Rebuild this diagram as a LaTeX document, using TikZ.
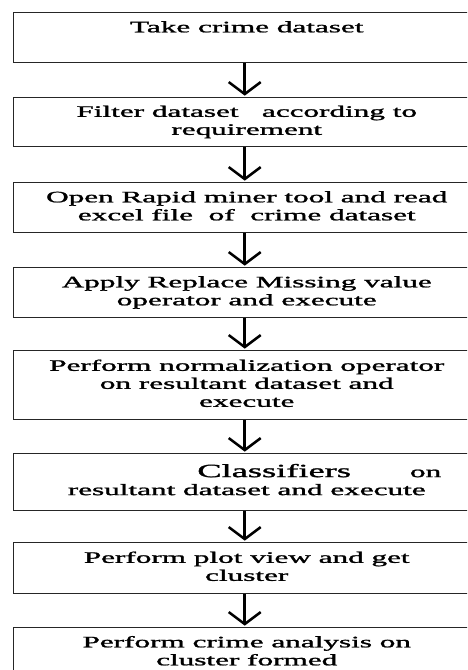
\documentclass[tikz,border=0pt]{standalone}
\usepackage{fontspec}
\setmainfont[FakeBold=1.2]{Liberation Serif}
\usetikzlibrary{arrows.meta}

% wide, horizontally stretched step text
\newcommand{\widetext}[1]{\scalebox{1.95}[1]{\begin{tabular}{@{}c@{}}#1\end{tabular}}}

\tikzset{
  stepbox/.style={draw=black!85, line width=1.1pt, rectangle, inner sep=0pt,
    minimum width=349.5pt, anchor=north west, fill=white,
    font=\fontsize{12}{13.5}\selectfont},
  flow/.style={line width=1.9pt, shorten >=1pt,
    -{Straight Barb[length=9pt, width=24pt, line width=1.9pt]}},
}

\begin{document}
\begin{tikzpicture}[x=0.75pt, y=-0.75pt]
\clip (0,0) rectangle (467,670);
\fill[white] (0,0) rectangle (467,670);

\node[stepbox, minimum height=37.5pt] (s1) at (13,12)
  {\widetext{Take crime dataset\\ {}}};
\node[stepbox, minimum height=36.75pt] (s2) at (13,97)
  {\widetext{Filter dataset\ \ \ according to\\ requirement}};
\node[stepbox, minimum height=37.5pt] (s3) at (13,182)
  {\widetext{Open Rapid miner tool and read\\ excel file\ \ of\ \ crime dataset}};
\node[stepbox, minimum height=37.5pt] (s4) at (13,267)
  {\widetext{Apply Replace Missing value\\ operator and execute}};
\node[stepbox, minimum height=51.75pt] (s5) at (13,350)
  {\widetext{Perform normalization operator\\ on resultant dataset and\\ execute}};
\node[stepbox, minimum height=42.75pt] (s6) at (13,453)
  {\widetext{\hspace*{55.8pt}{\fontsize{14}{13.5}\selectfont Classifiers}\hspace{22.7pt}on\\ resultant dataset and execute}};
\node[stepbox, minimum height=38.25pt] (s7) at (13,542)
  {\widetext{Perform plot view and get\\ cluster}};
\node[stepbox, minimum height=37.5pt] (s8) at (13,627)
  {\widetext{Perform crime analysis on\\ cluster formed}};

\foreach \a/\b in {s1/s2, s2/s3, s3/s4, s4/s5, s5/s6, s6/s7, s7/s8}
  \draw[flow] ([xshift=-1.5pt]\a.south) -- ([xshift=-1.5pt]\b.north);
\end{tikzpicture}
\end{document}
